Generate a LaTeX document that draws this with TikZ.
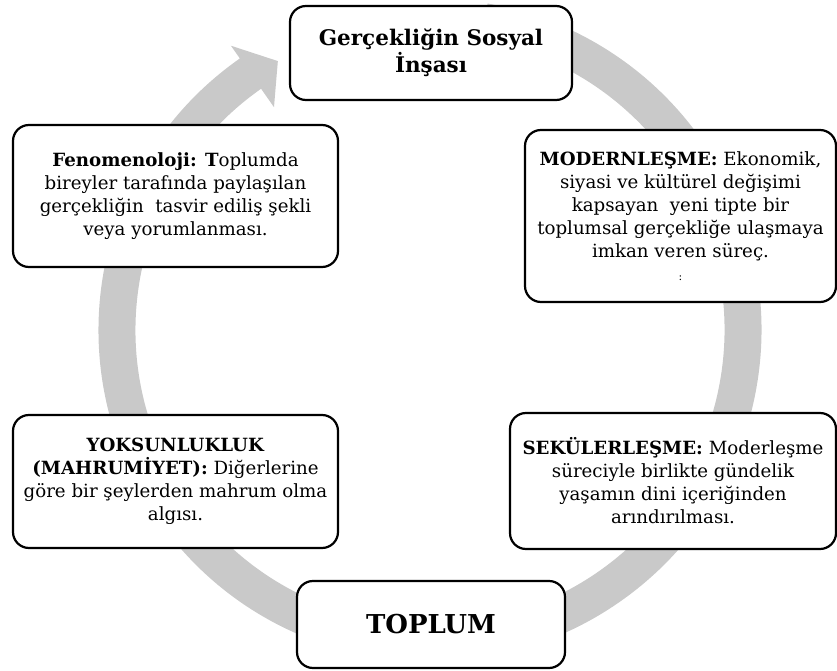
\documentclass[tikz,border=0pt]{standalone}
\usepackage{fontspec}
\setmainfont{DejaVu Serif}
\definecolor{halka}{RGB}{201,201,201}
\tikzset{
  kutu/.style={draw, fill=white, line width=2.2pt, rounded corners=16pt, align=center},
  metin/.style={font=\fontsize{18.2}{23}\selectfont}
}
\begin{document}
\begin{tikzpicture}[x=1pt, y=1pt]
  \useasboundingbox (0, 0) rectangle (837, 670);
  % gri halka ok
  \begin{scope}[shift={(430, 340)}]
    \fill [halka] (125:331.5) arc [start angle=125, end angle=440, radius=331.5]
      -- (440:294.5) arc [start angle=440, end angle=125, radius=294.5]
      -- (125:272) -- (119.5:309) -- (125:347) -- cycle;
  \end{scope}
  % kutular
  \node (insa) [kutu, minimum width=282pt, minimum height=94pt, font=\bfseries\fontsize{21.5}{27}\selectfont] at (431, 617) {Gerçekliğin Sosyal\\İnşası};
  \node (fenomen) [kutu, metin, minimum width=325pt, minimum height=142pt] at (175.5, 474) {\textbf{Fenomenoloji: T}oplumda\\bireyler tarafında paylaşılan\\gerçekliğin\ \ tasvir ediliş şekli\\veya yorumlanması.};
  \node (modern) [kutu, metin, minimum width=311pt, minimum height=172pt] at (680.5, 454) {\textbf{MODERNLEŞME:} Ekonomik,\\siyasi ve kültürel değişimi\\kapsayan\ \ yeni tipte bir\\toplumsal gerçekliğe ulaşmaya\\imkan veren süreç.\\{\fontsize{11}{19}\selectfont :}};
  \node (yoksun) [kutu, metin, minimum width=325pt, minimum height=133pt] at (175.5, 188.5) {\textbf{YOKSUNLUKLUK}\\\textbf{(MAHRUMİYET):} Diğerlerine\\göre bir şeylerden mahrum olma\\algısı.};
  \node (sekuler) [kutu, metin, minimum width=326pt, minimum height=136pt] at (673, 189) {\textbf{SEKÜLERLEŞME:} Moderleşme\\süreciyle birlikte gündelik\\yaşamın dini içeriğinden\\arındırılması.};
  \node (toplum) [kutu, minimum width=268pt, minimum height=87pt, font=\bfseries\fontsize{26}{30}\selectfont] at (431, 45.5) {TOPLUM};
\end{tikzpicture}
\end{document}
